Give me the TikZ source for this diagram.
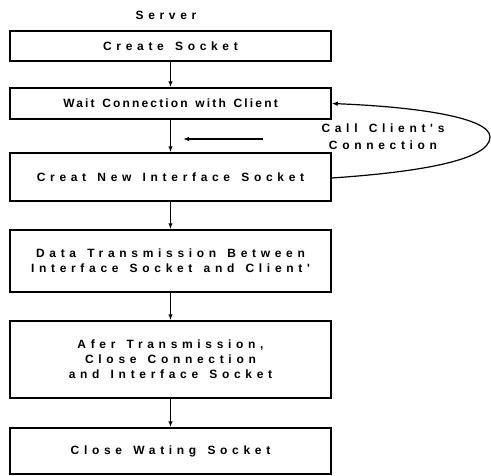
\documentclass[tikz,border=0pt]{standalone}
\usepackage{fontspec}
\usetikzlibrary{arrows.meta}
\newfontfamily\stagefont[LetterSpace=39,WordSpace=1.4]{Liberation Sans Bold}
\newfontfamily\tightfont[LetterSpace=18,WordSpace=1.4]{Liberation Sans Bold}
\tikzset{
  stage/.style={draw, line width=1.5pt, minimum width=321pt, inner sep=0pt,
    align=center, font=\stagefont\fontsize{12}{15}\selectfont},
  flow/.style={-{Latex[length=6pt,width=4.5pt]}, line width=1.2pt},
}
\begin{document}
\begin{tikzpicture}[x=1pt,y=-1pt]
\useasboundingbox (0,0) rectangle (491,475);

\node [font=\stagefont\fontsize{12}{15}\selectfont] (server) at (166,15) {Server};

\node [stage, minimum height=30pt] (create) at (170.5,46) {Create Socket};
\node [stage, minimum height=31pt, font=\tightfont\fontsize{12}{15}\selectfont] (wait) at (170.5,103.5) {Wait Connection with Client};
\node [stage, minimum height=48pt] (newsock) at (170.5,177) {Creat New Interface Socket};
\node [stage, minimum height=62pt] (data) at (170.5,261) {Data Transmission Between\\Interface Socket and Client'};
\node [stage, minimum height=77pt] (closeconn) at (170.5,359.5) {Afer Transmission,\\Close Connection\\and Interface Socket};
\node [stage, minimum height=46pt] (closewait) at (170.5,451) {Close Wating Socket};

\draw [flow] (create) -- (wait);
\draw [flow] (wait) -- (newsock);
\draw [flow] (newsock) -- (data);
\draw [flow] (data) -- (closeconn);
\draw [flow] (closeconn) -- (closewait);

% call back loop
\coordinate (callstart) at (263,139);
\coordinate (callend) at (183,139);
\draw [flow] (callstart) -- (callend);
\node [font=\stagefont\fontsize{12}{17}\selectfont, align=center] (calltext) at (383,137) {Call Client's\\Connection};
\draw [flow] ([yshift=-1pt]newsock.east) .. controls (420,172) and (490,160) .. (490,137)
  .. controls (490,118) and (420,107) .. (wait.east);
\end{tikzpicture}
\end{document}
